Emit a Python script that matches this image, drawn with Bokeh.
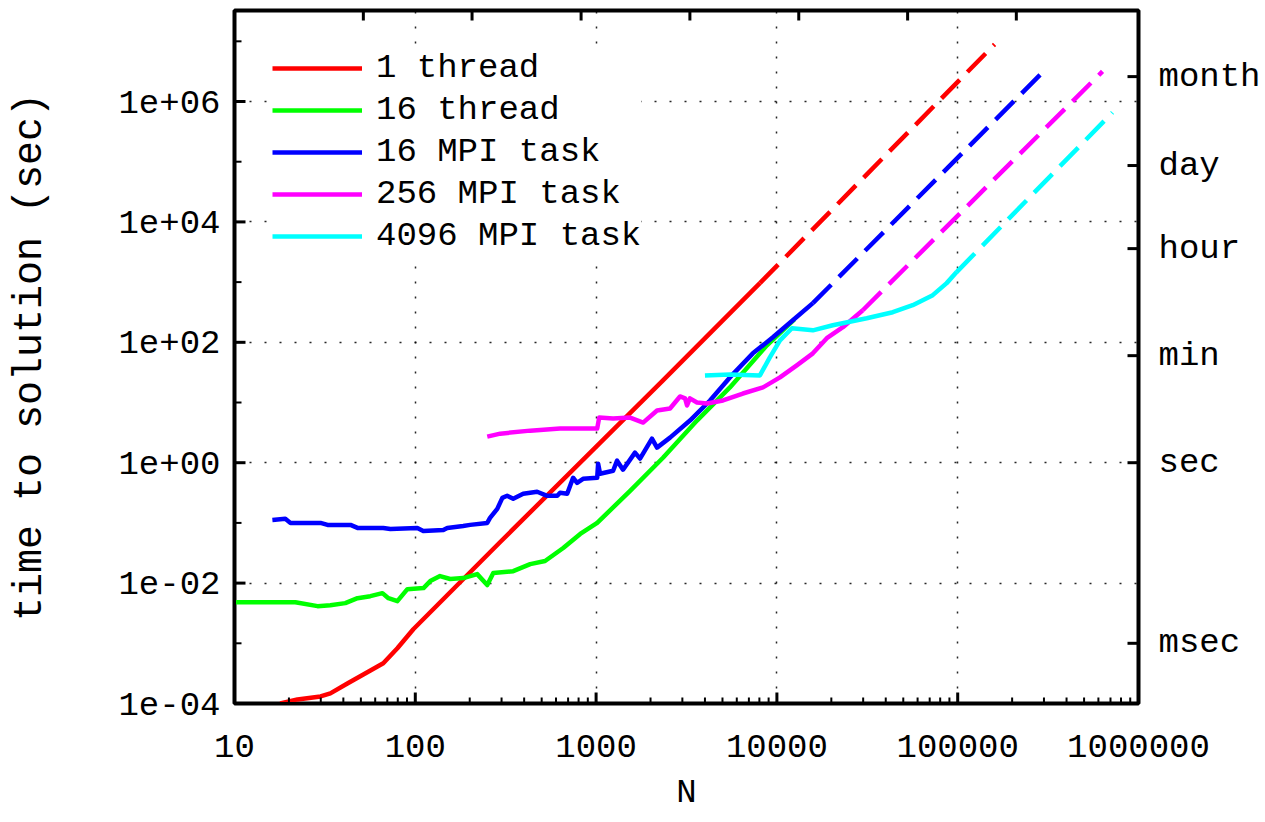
from bokeh.plotting import figure
from bokeh.models import (FixedTicker, LogAxis, Legend, LegendItem,
                          CustomJSTickFormatter, Range1d)
from bokeh.embed import file_html
from bokeh.resources import INLINE

# ---------------- data ----------------
series_labels = ["1 thread", "16 thread", "16 MPI task", "256 MPI task", "4096 MPI task"]
series_colors = ["#ff0000", "#00ff00", "#0000ff", "#ff00ff", "#00ffff"]

thread1_N = [17.9, 22.3, 29.9, 33.9, 42.1, 51.6, 66.5, 79.6, 97.5, 295, 2344, 8054]
thread1_t = [1.0e-4, 1.17e-4, 1.31e-4, 1.47e-4, 2.15e-4, 3.04e-4, 4.65e-4, 8.26e-4,
             1.71e-3, 0.0482, 23.3, 962]
thread1_est_N = [8054, 160000]
thread1_est_t = [962, 8.9e6]

thread16_N = [9, 21.7, 28.8, 33.9, 41.0, 47.9, 56.4, 65.8, 71.0, 79.6, 90.4, 111, 121,
              137, 156, 184, 220, 250, 270, 348, 432, 522, 658, 817, 1014, 1542, 2344,
              3614, 5495, 8810, 12500]
thread16_t = [4.82e-3, 4.82e-3, 4.14e-3, 4.30e-3, 4.65e-3, 5.62e-3, 6.07e-3, 6.81e-3,
              5.62e-3, 5.01e-3, 7.94e-3, 8.26e-3, 0.0108, 0.0131, 0.0117, 0.0121, 0.0141,
              9.27e-3, 0.0147, 0.0158, 0.0207, 0.0233, 0.0383, 0.0656, 0.100, 0.341, 1.21,
              5.01, 17.8, 89.1, 240]

mpi16_N = [16.2, 19.1, 20.4, 29.9, 32.7, 43.8, 47.9, 66.5, 72.8, 102.6, 110.7, 142.9,
           150.3, 184, 201, 250, 259, 284, 303, 322, 348, 395, 472, 536, 610, 632, 692,
           746, 785, 847, 1014, 1026, 1052, 1242, 1306, 1409, 1641, 1750, 2037, 2173,
           2564, 3304, 4266, 5495, 7362, 9506, 12250, 15810]
mpi16_t = [0.112, 0.117, 0.100, 0.100, 0.0927, 0.0927, 0.0826, 0.0826, 0.0794, 0.0826,
           0.0736, 0.0764, 0.0826, 0.0891, 0.0927, 0.100, 0.121, 0.171, 0.261, 0.282,
           0.251, 0.304, 0.329, 0.282, 0.282, 0.316, 0.304, 0.562, 0.464, 0.541,
           0.562, 0.962, 0.656, 0.736, 1.08, 0.764, 1.47, 1.17, 2.51, 1.78,
           2.61, 5.01, 10.8, 26.1, 65.6, 121, 233, 447]
mpi16_est_N = [15810, 314100]
mpi16_est_t = [447, 3.69e6]

mpi256_N = [250, 295, 432, 632, 1014, 1040, 1242, 1542, 1820, 2173, 2564, 2911, 3105,
            3184, 3304, 3614, 4102, 5035, 6486, 8375, 10400, 12880, 15810, 18880, 23170,
            29850]
mpi256_t = [2.71, 3.04, 3.41, 3.69, 3.69, 5.62, 5.41, 5.62, 4.64, 7.36, 7.94, 12.6, 11.7,
            8.91, 11.7, 10.0, 9.62, 10.8, 14.1, 17.8, 26.1, 41.4, 65.6, 117, 178, 341]
mpi256_est_N = [29850, 632400]
mpi256_est_t = [341, 3.16e6]

mpi4096_N = [4000, 5495, 8054, 9141, 10400, 12110, 15810, 20370, 31410, 43750, 56360,
             72780, 86900, 98620]
mpi4096_t = [28.2, 29.3, 28.2, 56.2, 108, 171, 158, 192, 251, 316, 414, 607, 962, 1469]
mpi4096_est_N = [98620, 717800]
mpi4096_est_t = [1469, 6.56e5]

# axis ticks
x_ticks = [10, 100, 1000, 10000, 100000, 1000000]
x_minor = [m * 10 ** e for e in range(1, 6) for m in range(2, 10)]
y_ticks = [1e-4, 1e-2, 1, 1e2, 1e4, 1e6]
y_minor = [1e-3, 1e-1, 10, 1e3, 1e5, 1e7]
top_ticks = [51.6, 206, 826, 3302, 13210, 52840, 211000]
right_tick_values = [2592000, 86400, 3600, 60, 1, 0.001]
right_tick_labels = ["month", "day", "hour", "min", "sec", "msec"]

FONT = "Liberation Mono"

# ---------------- layout ----------------
W, H = 1265, 822
BL, BR, BT, BB = 234, 127, 10, 119
X_LO, X_HI = 10, 1e6
Y_LO, Y_HI = 1e-4, 3.25e7

p = figure(width=W, height=H, x_axis_type="log", y_axis_type="log",
           x_range=Range1d(X_LO, X_HI), y_range=Range1d(Y_LO, Y_HI),
           output_backend="svg", toolbar_location=None,
           min_border_left=BL, min_border_right=BR, min_border_top=BT,
           min_border_bottom=BB,
           x_axis_label="N", y_axis_label="time to solution (sec)")

p.background_fill_color = "white"
p.border_fill_color = "white"
p.outline_line_color = "black"
p.outline_line_width = 4

# grid
p.xgrid.ticker = FixedTicker(ticks=x_ticks[1:-1])
p.ygrid.ticker = FixedTicker(ticks=y_ticks[1:])
for g in (p.xgrid, p.ygrid):
    g.grid_line_color = "black"
    g.grid_line_dash = "2 13"
    g.grid_line_width = 1.5
    g.grid_line_alpha = 0.85

# bottom axis
xa = p.xaxis[0]
xa.ticker = FixedTicker(ticks=x_ticks, minor_ticks=x_minor)
xa.formatter = CustomJSTickFormatter(code="return tick.toFixed(0);")
# left axis
ya = p.yaxis[0]
ya.ticker = FixedTicker(ticks=y_ticks, minor_ticks=y_minor)
ya.formatter = CustomJSTickFormatter(code="""
const e = Math.round(Math.log10(tick));
const a = Math.abs(e);
return '1e' + (e < 0 ? '-' : '+') + (a < 10 ? '0' : '') + a;
""")

# right axis
ra = LogAxis(ticker=FixedTicker(ticks=right_tick_values, minor_ticks=[]),
             formatter=CustomJSTickFormatter(args=dict(vals=right_tick_values,
                                                       names=right_tick_labels), code="""
let best = 0, d = Infinity;
for (let i = 0; i < vals.length; i++) {
  const dd = Math.abs(Math.log10(vals[i]) - Math.log10(tick));
  if (dd < d) { d = dd; best = i; }
}
return names[best];
"""))
p.add_layout(ra, "right")

# top axis (no labels)
ta = LogAxis(ticker=FixedTicker(ticks=top_ticks, minor_ticks=[]))
ta.major_label_text_font_size = "1px"
ta.major_label_text_alpha = 0
ta.major_label_standoff = 0
p.add_layout(ta, "above")

for ax in (xa, ya, ra, ta):
    ax.axis_line_color = "black"
    ax.axis_line_width = 3
    ax.major_tick_in = 0
    ax.major_tick_out = 0
    ax.minor_tick_in = 0
    ax.minor_tick_out = 0
    ax.major_label_text_color = "black"
    ax.axis_label_text_color = "black"
    ax.axis_label_text_font = FONT
    ax.axis_label_text_font_style = "normal"

for ax in (xa, ya, ra):
    ax.major_label_text_font = FONT
    ax.major_label_text_font_size = "34px"

xa.major_label_standoff = 31
xa.axis_label_text_font_size = "34px"
xa.axis_label_standoff = 14
ya.major_label_standoff = 14
ya.axis_label_text_font_size = "40px"
ya.axis_label_standoff = 62
ra.major_label_standoff = 20

# ---------------- series ----------------
solid = [(thread1_N, thread1_t), (thread16_N, thread16_t), (mpi16_N, mpi16_t),
         (mpi256_N, mpi256_t), (mpi4096_N, mpi4096_t)]
dashed = [(thread1_est_N, thread1_est_t), None, (mpi16_est_N, mpi16_est_t),
          (mpi256_est_N, mpi256_est_t), (mpi4096_est_N, mpi4096_est_t)]

items = []
for (xs, ys), est, lab, col in zip(solid, dashed, series_labels, series_colors):
    r = p.line(xs, ys, line_color=col, line_width=4.5, line_join="round")
    if est is not None:
        p.line(est[0], est[1], line_color=col, line_width=4.5, line_dash="26 11")
    items.append(LegendItem(label=lab, renderers=[r]))

legend = Legend(items=items, location="top_left", margin=38, padding=12, spacing=2,
                label_text_font=FONT, label_text_font_size="34px",
                label_text_color="black",
                glyph_width=90, glyph_height=40, label_height=40, label_standoff=14,
                border_line_color=None, background_fill_color="white",
                background_fill_alpha=1.0)
p.add_layout(legend)

# inward tick marks (gnuplot style), placed through the plot's own log scales
fw, fh = W - BL - BR, H - BT - BB
ppd_x = fw / 5.0          # pixels per decade along x (range 10 .. 1e6)
ppd_y = fh / 11.512       # pixels per decade along y (range 1e-4 .. 3.25e7)


def xin(px):
    return 10 ** (px / ppd_x)


def yin(px):
    return 10 ** (px / ppd_y)


tick_style = dict(line_color="black", line_cap="butt", level="overlay")
p.segment(x0=x_ticks, y0=[Y_LO] * len(x_ticks), x1=x_ticks,
          y1=[Y_LO * yin(11)] * len(x_ticks), line_width=3, **tick_style)
p.segment(x0=x_minor, y0=[Y_LO] * len(x_minor), x1=x_minor,
          y1=[Y_LO * yin(6)] * len(x_minor), line_width=2, **tick_style)
p.segment(x0=top_ticks, y0=[Y_HI] * len(top_ticks), x1=top_ticks,
          y1=[Y_HI / yin(10)] * len(top_ticks), line_width=3, **tick_style)
p.segment(x0=[X_LO] * len(y_ticks), y0=y_ticks, x1=[X_LO * xin(11)] * len(y_ticks),
          y1=y_ticks, line_width=3, **tick_style)
p.segment(x0=[X_LO] * len(y_minor), y0=y_minor, x1=[X_LO * xin(7)] * len(y_minor),
          y1=y_minor, line_width=2, **tick_style)
p.segment(x0=[X_HI] * len(right_tick_values), y0=right_tick_values,
          x1=[X_HI / xin(11)] * len(right_tick_values), y1=right_tick_values,
          line_width=3, **tick_style)

open("out.html", "w").write(file_html(p, INLINE))
